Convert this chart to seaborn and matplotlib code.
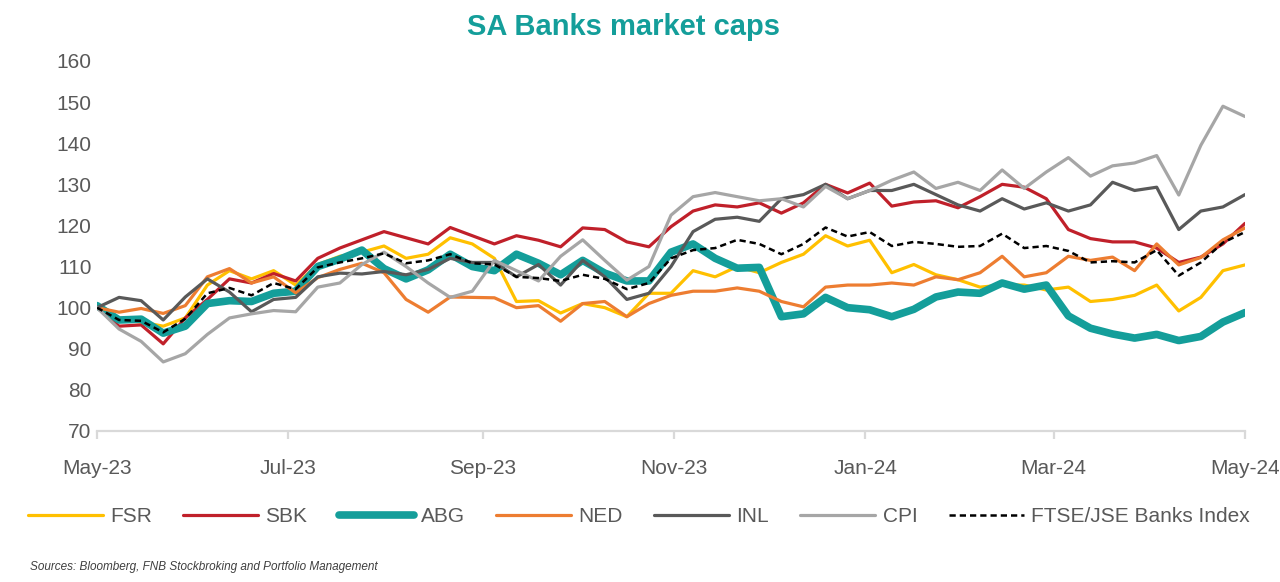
import pandas as pd
import matplotlib
matplotlib.use("Agg")
import matplotlib.pyplot as plt
import matplotlib.dates as mdates
import seaborn as sns

# weekly readings, rebased to 100 at start of May 2023
dates = pd.date_range("2023-05-01", "2024-05-01", periods=53)

fsr = [100, 97, 96.5, 95.5, 97.5, 105.5, 109, 107, 109, 105.5,
       110.5, 112.5, 113.5, 115, 112, 113, 117, 115.5, 112, 101.5,
       101.7, 98.7, 101, 100, 97.8, 103.5, 103.5, 109, 107.5, 110,
       108.5, 111, 113, 117.5, 115, 116.4, 108.5, 110.5, 108, 106.8,
       105, 105.5, 105.5, 104.3, 105, 101.5, 102, 103, 105.5, 99.2,
       102.5, 109, 110.4]
sbk = [100, 95.5, 95.8, 91.2, 97.5, 102, 107, 106, 108.3, 106.5,
       112, 114.5, 116.5, 118.5, 117, 115.5, 119.5, 117.5, 115.5, 117.5,
       116.4, 114.8, 119.4, 119, 116, 114.8, 119.7, 123.5, 125, 124.5,
       125.5, 123, 125.5, 130, 127.9, 130.3, 124.7, 125.7, 126, 124.3,
       127, 130, 129.3, 126.5, 119, 116.8, 116, 116, 114.5, 111,
       112.3, 115.5, 120.5]
abg = [100.5, 97, 97.2, 93.8, 95.5, 101, 101.7, 101.5, 103.5, 104,
       110, 111.8, 114, 109.5, 107, 109.2, 113, 110, 109, 113,
       110.8, 108, 111.5, 108.4, 106.5, 106.5, 113.5, 115.5, 112, 109.6,
       109.8, 97.8, 98.5, 102.5, 100, 99.5, 97.8, 99.6, 102.6, 103.8,
       103.5, 106, 104.5, 105.5, 98, 95, 93.6, 92.6, 93.5, 92,
       93, 96.5, 98.8]
ned = [100, 98.9, 99.8, 98.6, 100.5, 107.5, 109.5, 106, 107.5, 103.6,
       107.3, 109.3, 110.8, 108.5, 102, 98.9, 102.6, 102.5, 102.4, 100,
       100.5, 96.7, 101, 101.5, 97.8, 101, 103, 104, 104, 104.8,
       104, 101.5, 100.2, 105, 105.5, 105.5, 106, 105.5, 107.5, 106.8,
       108.5, 112.5, 107.5, 108.5, 112.5, 111.5, 112.3, 109, 115.5, 110.4,
       112.2, 116.5, 119.4]
inl = [100, 102.5, 101.7, 97, 102.6, 107, 103.8, 99, 102, 102.5,
       107.5, 108.4, 108.2, 108.8, 108, 109.3, 112, 111, 111, 107.5,
       110.5, 105.5, 111.5, 107.5, 102, 103.5, 110, 118.5, 121.5, 122,
       121, 126.5, 127.5, 130, 126.5, 128.5, 128.5, 130, 127.5, 125,
       123.5, 126.5, 124, 125.5, 123.5, 125, 130.5, 128.5, 129.3, 119,
       123.5, 124.5, 127.5]
cpi = [100, 94.8, 91.8, 86.8, 88.8, 93.5, 97.5, 98.5, 99.3, 99,
       105, 106, 110.5, 113.5, 110, 106, 102.5, 104, 111.5, 109,
       106.5, 112.5, 116.5, 111.5, 106.7, 110, 122.5, 127, 128, 127,
       126, 126.5, 124.5, 129.5, 126.5, 128.5, 131, 133, 129, 130.5,
       128.5, 133.5, 129, 133, 136.5, 132, 134.5, 135.2, 137, 127.4,
       139.5, 149, 146.5]
banks_index = [100, 97, 96.8, 94, 97.3, 103.5, 104.8, 103, 106, 104.5,
               109.8, 111, 112, 113.2, 110.8, 111.5, 113, 110.8, 110.5, 107.5,
               107.2, 106.5, 108, 107, 104.5, 106, 112, 114, 114.5, 116.5,
               115.5, 113, 115.5, 119.5, 117.3, 118.4, 115, 116, 115.5, 114.8,
               115, 118, 114.5, 115, 113.8, 111, 111.3, 111, 114, 107.8,
               111, 115.8, 118.4]

names = ["FSR", "SBK", "ABG", "NED", "INL", "CPI", "FTSE/JSE Banks Index"]
series = [fsr, sbk, abg, ned, inl, cpi, banks_index]
colors = ["#FFC000", "#C0202A", "#149E9A", "#ED7D31", "#595959", "#A6A6A6", "#000000"]
widths = [2.3, 2.3, 5.5, 2.3, 2.3, 2.3, 1.8]

sns.set_theme(style="white")
plt.rcParams["font.family"] = ["Liberation Sans", "DejaVu Sans"]

fig = plt.figure(figsize=(12.8, 5.82), dpi=100)
ax = fig.add_axes([97 / 1280, 1 - 431 / 582, 1148 / 1280, 370 / 582])

for name, vals, col, lw in zip(names, series, colors, widths):
    ls = (0, (2.5, 1.6)) if name.startswith("FTSE") else "-"
    sns.lineplot(x=dates, y=vals, color=col, linewidth=lw, linestyle=ls,
                 label=name, ax=ax)

ax.set_ylim(70, 160)
ax.set_yticks(range(70, 161, 10))
ax.set_xlim(pd.Timestamp("2023-05-01"), pd.Timestamp("2024-05-01"))
ax.xaxis.set_major_locator(mdates.MonthLocator(bymonth=[1, 3, 5, 7, 9, 11]))
ax.xaxis.set_major_formatter(mdates.DateFormatter("%b-%y"))
ax.set_xlabel("")
ax.set_ylabel("")

for s in ["top", "right", "left"]:
    ax.spines[s].set_visible(False)
ax.spines["bottom"].set_color("#D9D9D9")
ax.spines["bottom"].set_linewidth(1.6)
ax.tick_params(axis="x", colors="#595959", labelsize=15, length=6, width=1.6,
               color="#D9D9D9", pad=14, direction="out", bottom=True)
ax.tick_params(axis="y", colors="#595959", labelsize=15, length=0, pad=4)

handles, labels = ax.get_legend_handles_labels()
ax.get_legend().remove()
fig.legend(handles, labels, loc="center", bbox_to_anchor=(0.499, 0.112), ncol=7,
           frameon=False, fontsize=15, handlelength=3.6, handletextpad=0.35,
           columnspacing=1.5, labelcolor="#595959")

fig.text(0.487, 1 - 27 / 582, "SA Banks market caps", ha="center", va="center",
         fontsize=21, fontweight="bold", color="#149E9A")
fig.text(30 / 1280, 1 - 567 / 582,
         "Sources: Bloomberg, FNB Stockbroking and Portfolio Management",
         ha="left", va="center", fontsize=8.5, style="italic", color="#404040")

fig.savefig("out.png", dpi=100)
